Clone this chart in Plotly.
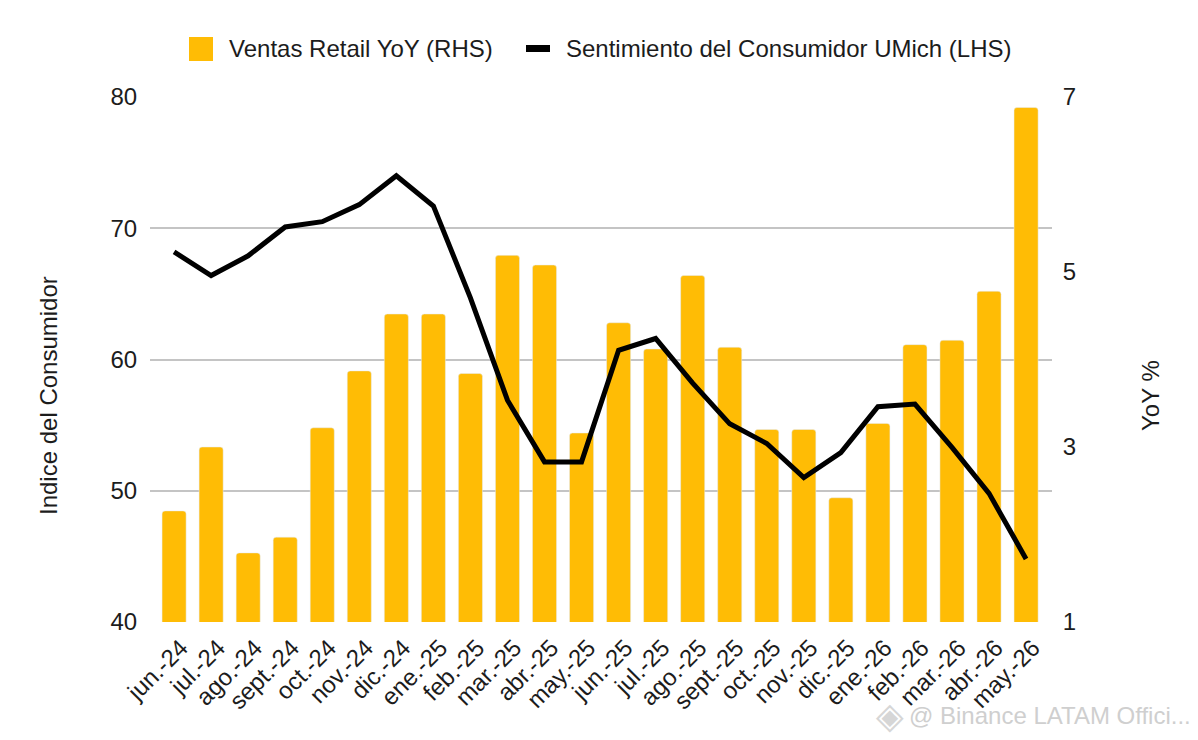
"""Ventas retail YoY vs sentimiento del consumidor UMich, doble eje."""
import plotly.graph_objects as go

meses = ["jun.-24", "jul.-24", "ago.-24", "sept.-24", "oct.-24", "nov.-24", "dic.-24", "ene.-25",
         "feb.-25", "mar.-25", "abr.-25", "may.-25", "jun.-25", "jul.-25", "ago.-25", "sept.-25",
         "oct.-25", "nov.-25", "dic.-25", "ene.-26", "feb.-26", "mar.-26", "abr.-26", "may.-26"]
ventas_yoy = [2.27, 3.0, 1.79, 1.97, 3.22, 3.87, 4.52, 4.52, 3.84, 5.19, 5.08, 3.16,
              4.42, 4.12, 4.96, 4.14, 3.2, 3.2, 2.42, 3.27, 4.17, 4.22, 4.78, 6.88]
sentimiento = [68.2, 66.4, 67.9, 70.1, 70.5, 71.8, 74.0, 71.7, 64.7, 56.9, 52.2, 52.2,
               60.7, 61.6, 58.2, 55.1, 53.6, 51.0, 52.9, 56.4, 56.6, 53.3, 49.8, 44.8]
ticks_izq = [40, 50, 60, 70, 80]
ticks_der = [1, 3, 5, 7]
# las lineas de grilla siguen al eje izquierdo, expresadas en la escala derecha
grilla_der = [1, 2.5, 4, 5.5, 7]

AMARILLO = "#FFBC05"
TEXTO = "#1c1c1c"
GRIS = "#c4c4c4"
FUENTE = "Liberation Sans"
TRANSPARENTE = "rgba(0,0,0,0)"


def px(x):
    return (x - 150) / 902


def py(y):
    return (622 - y) / 525


fig = go.Figure()
fig.add_trace(go.Bar(x=meses, y=ventas_yoy, name="Ventas Retail YoY (RHS)",
                     marker=dict(color=AMARILLO, cornerradius=3), width=0.65))
fig.add_trace(go.Scatter(x=meses, y=sentimiento, name="Sentimiento del Consumidor UMich (LHS)",
                         yaxis="y2", mode="lines", line=dict(color="#000000", width=5)))

fig.update_layout(
    width=1190, height=732, autosize=False, showlegend=False,
    paper_bgcolor="white", plot_bgcolor="white",
    font=dict(family=FUENTE, color=TEXTO, size=24),
    margin=dict(l=142, r=146, t=89, b=118),
    xaxis=dict(type="category", range=[-0.65, 23.7], tickangle=-45, showgrid=False,
               ticks="", showline=False, ticklabelshift=7, ticklabelstandoff=6),
    yaxis=dict(range=[1, 7], tickvals=ticks_der, side="right", showgrid=False,
               zeroline=False, ticks="outside", ticklen=5, tickcolor=TRANSPARENTE,
               minor=dict(tickvals=grilla_der, showgrid=True, gridcolor=GRIS, gridwidth=1.5, ticks="")),
    yaxis2=dict(range=[40, 80], tickvals=ticks_izq, overlaying="y", side="left", showgrid=False,
                zeroline=False, ticks="outside", ticklen=7, tickcolor=TRANSPARENTE),
)

# titulos de eje como anotaciones: en el original no van centrados en el eje
fig.add_annotation(text="Indice del Consumidor", textangle=-90, xref="paper", yref="paper", x=px(48),
                   y=py(396), xanchor="center", yanchor="middle", showarrow=False)
fig.add_annotation(text="YoY %", textangle=-90, xref="paper", yref="paper", x=px(1150),
                   y=py(396), xanchor="center", yanchor="middle", showarrow=False)

# leyenda dibujada a mano: la nativa no da el cuadro de 24 px
fig.add_shape(type="rect", xref="paper", yref="paper", x0=px(189), x1=px(213),
              y0=py(61), y1=py(37), fillcolor=AMARILLO, line_width=0)
fig.add_shape(type="rect", xref="paper", yref="paper", x0=px(526), x1=px(550),
              y0=py(52), y1=py(45), fillcolor="#000000", line_width=0)
fig.add_annotation(text="Ventas Retail YoY (RHS)", xref="paper", yref="paper", x=px(227),
                   y=py(48), xanchor="left", yanchor="middle", showarrow=False)
fig.add_annotation(text="Sentimiento del Consumidor UMich (LHS)", xref="paper", yref="paper",
                   x=px(564), y=py(48), xanchor="left", yanchor="middle", showarrow=False)

# marca de agua
fig.add_annotation(text="◈", xref="paper", yref="paper", x=px(890), y=py(715), xanchor="center",
                   yanchor="middle", showarrow=False, font=dict(size=36, color="#d6d6d6"))
fig.add_annotation(text="@ Binance LATAM Offici...", xref="paper", yref="paper", x=px(1193),
                   y=py(715), xanchor="right", yanchor="middle", showarrow=False,
                   font=dict(size=24, color="#cfcfcf"))

fig.write_html("out.html")
